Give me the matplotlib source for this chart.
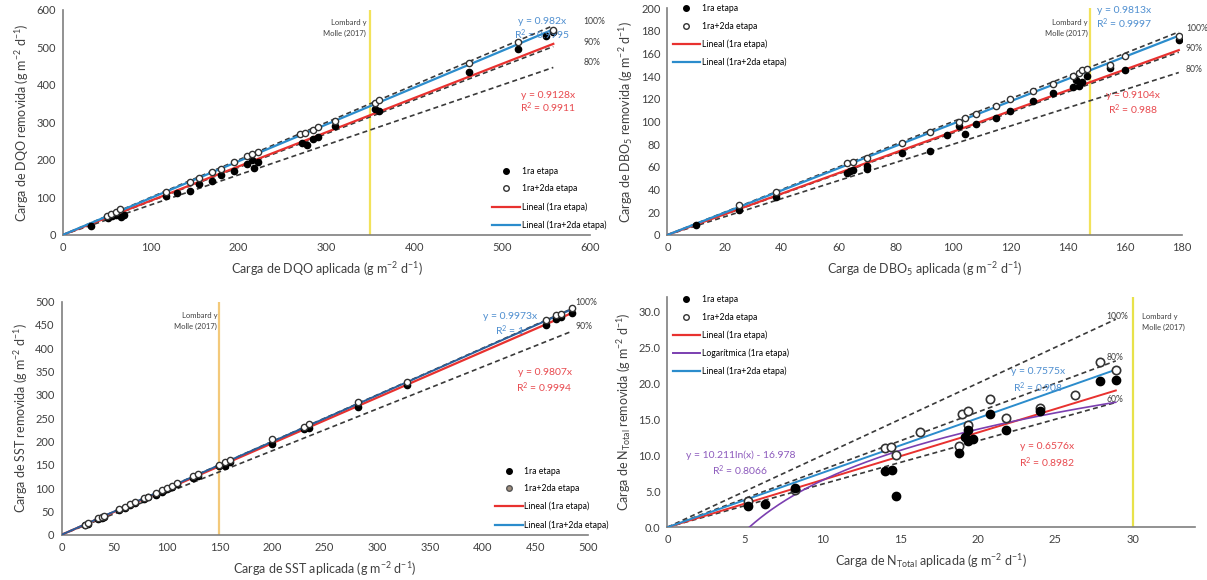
import numpy as np
import matplotlib
matplotlib.use("Agg")
import matplotlib.pyplot as plt
from matplotlib.lines import Line2D

plt.rcParams['font.family'] = ['Lato', 'DejaVu Sans']
plt.rcParams['mathtext.fontset'] = 'custom'
plt.rcParams['mathtext.rm'] = 'Lato'
plt.rcParams['mathtext.it'] = 'Lato:italic'

# ---------------- DATA ----------------
# Panel 1: DQO
dqo_x1 = [32, 52, 56, 60, 66, 70, 118, 130, 145, 155, 170, 180, 195, 210, 215, 218, 222,
          272, 278, 285, 290, 310, 355, 360, 462, 518, 550, 558]
dqo_y1 = [25, 45, 50, 52, 48, 52, 103, 112, 118, 135, 145, 160, 170, 188, 200, 178, 195,
          245, 240, 255, 262, 290, 335, 330, 435, 495, 530, 540]
dqo_x2 = [50, 55, 60, 65, 118, 145, 155, 170, 180, 195, 210, 215, 222, 270, 275, 285, 290,
          310, 355, 360, 462, 518, 558]
dqo_y2 = [50, 55, 62, 68, 115, 142, 152, 168, 175, 195, 210, 215, 220, 268, 272, 280, 288,
          305, 352, 360, 458, 515, 545]
dqo_m1, dqo_r1 = 0.9128, 0.9911
dqo_m2, dqo_r2 = 0.982, 0.9995

# Panel 2: DBO5
dbo_x1 = [10, 25, 38, 63, 64, 65, 70, 70, 82, 92, 98, 102, 104, 108, 115, 120, 128, 135,
          142, 143, 144, 145, 147, 155, 160, 179]
dbo_y1 = [9, 22, 33, 55, 56, 57, 58, 61, 72, 74, 88, 96, 89, 98, 103, 109, 118, 125,
          130, 137, 131, 135, 140, 147, 145, 172]
dbo_x2 = [25, 38, 63, 65, 70, 82, 92, 102, 104, 108, 115, 120, 128, 135, 142, 144, 145,
          147, 155, 160, 179]
dbo_y2 = [26, 38, 63, 64, 68, 81, 91, 100, 103, 107, 114, 120, 127, 133, 140, 143, 145,
          146, 150, 158, 175]
dbo_m1, dbo_r1 = 0.9104, 0.988
dbo_m2, dbo_r2 = 0.9813, 0.9997

# Panel 3: SST
sst_x = [22, 25, 35, 38, 40, 55, 60, 65, 70, 78, 82, 90, 95, 100, 105, 110, 125, 130,
         150, 155, 160, 200, 230, 235, 282, 328, 460, 470, 475, 485]
sst_y1 = [21, 24, 34, 37, 39, 53, 58, 63, 68, 76, 80, 86, 92, 98, 103, 108, 122, 127,
          147, 148, 157, 194, 226, 230, 275, 321, 450, 462, 466, 476]
sst_y2 = [22, 25, 35, 38, 40, 55, 60, 65, 70, 78, 82, 90, 95, 100, 105, 110, 125, 130,
          150, 156, 160, 205, 232, 238, 285, 328, 460, 471, 474, 487]
sst_m1, sst_r1 = 0.9807, 0.9994
sst_m2, sst_r2 = 0.9973, 1

# Panel 4: N total
nt_x1 = [5.2, 6.3, 8.2, 14.0, 14.5, 14.7, 18.8, 19.2, 19.4, 19.7, 19.4, 20.8, 21.8, 24.0, 27.9, 28.9]
nt_y1 = [3.0, 3.2, 5.5, 7.8, 8.0, 4.4, 10.3, 12.5, 12.0, 12.2, 13.5, 15.8, 13.5, 16.2, 20.3, 20.5]
nt_x2 = [5.2, 8.2, 14.0, 14.4, 14.7, 16.3, 18.8, 19.0, 19.4, 19.4, 20.8, 21.8, 24.0, 26.3, 27.9, 28.9]
nt_y2 = [3.6, 5.2, 11.0, 11.2, 10.0, 13.3, 11.3, 15.8, 16.2, 14.2, 17.8, 15.2, 16.5, 18.4, 23.0, 21.8]
nt_m1, nt_r1 = 0.6576, 0.8982
nt_m2, nt_r2 = 0.7575, 0.908
nt_loga, nt_logb, nt_logr = 10.211, -16.978, 0.8066

# ---------------- STYLE ----------------
RED = '#e8312f'
BLUE = '#2b8ccc'
PURPLE = '#7b3fb0'
TRED = '#e84a4f'
TBLUE = '#4f8fd0'
TPURPLE = '#8d5bbd'
DASH = '#3a3a3a'
TICK_FS = 8
LAB_FS = 9
SMALL = 6.2
EQ_FS = 7.5

fig = plt.figure(figsize=(12.07, 5.80), dpi=100)


def style_axes(ax):
    for s in ['top', 'right']:
        ax.spines[s].set_visible(False)
    for s in ['left', 'bottom']:
        ax.spines[s].set_color('#7f7f7f')
        ax.spines[s].set_linewidth(1.2)
    ax.tick_params(length=0, labelsize=TICK_FS, colors='#404040', pad=5)


def scatter_pair(ax, x1, y1, x2, y2, open_color='#333333', ms=4.5):
    ax.plot(x2, y2, 'o', mfc='white', mec=open_color, mew=1.0, ms=ms, zorder=4)
    ax.plot(x1, y1, 'o', color='black', ms=ms, zorder=3)


def dashed(ax, xmax, fracs):
    for f in fracs:
        xs = np.array([0, xmax])
        ax.plot(xs, f * xs, ls=(0, (3, 2)), color=DASH, lw=1.2, zorder=2)


def legend(ax, loc, entries, bbox=None):
    kw = dict(loc=loc, frameon=False, fontsize=SMALL, handlelength=3.2,
              labelspacing=1.0, handletextpad=0.2, borderaxespad=0.2)
    if bbox is not None:
        kw['bbox_to_anchor'] = bbox
    ax.legend(handles=entries, **kw)


def base_entries(open_color='#333333', open_fill='white', extra=None):
    e = [Line2D([], [], ls='none', marker='o', color='black', ms=4, label='1ra etapa'),
         Line2D([], [], ls='none', marker='o', mfc=open_fill, mec=open_color, ms=4, label='1ra+2da etapa'),
         Line2D([], [], color=RED, lw=1.6, label='Lineal (1ra etapa)')]
    if extra:
        e += extra
    e.append(Line2D([], [], color=BLUE, lw=1.6, label='Lineal (1ra+2da etapa)'))
    return e


def pct_labels(ax, xpos, xmax, fracs, dy):
    for f in fracs:
        ax.text(xpos, xmax * f + dy, f'{int(round(f * 100))}%', fontsize=SMALL,
                color='#404040', va='center', clip_on=False)


# ---------- Panel 1: DQO ----------
ax1 = fig.add_axes([0.052, 0.595, 0.437, 0.388])
style_axes(ax1)
ax1.set_xlim(0, 600)
ax1.set_ylim(0, 600)
ax1.set_xticks(range(0, 601, 100))
ax1.set_yticks(range(0, 601, 100))
xmax = max(dqo_x1)
dashed(ax1, xmax, [1.0, 0.9, 0.8])
xs = np.array([0, xmax])
ax1.plot(xs, dqo_m1 * xs, color=RED, lw=1.6, zorder=3)
ax1.plot(xs, dqo_m2 * xs, color=BLUE, lw=1.6, zorder=3)
scatter_pair(ax1, dqo_x1, dqo_y1, dqo_x2, dqo_y2)
ax1.axvline(350, color='#f2e25a', lw=1.6, zorder=1)
ax1.text(345, 575, 'Lombard y\nMolle (2017)', fontsize=5.5, ha='right', va='top', color='#404040', linespacing=1.6)
pct_labels(ax1, 592, xmax, [1.0, 0.9, 0.8], 12)
ax1.text(545, 568, f'y = {dqo_m2}x', color=TBLUE, fontsize=EQ_FS, ha='center', va='center')
ax1.text(545, 534, f'R$^2$ = {dqo_r2}', color=TBLUE, fontsize=EQ_FS, ha='center', va='center')
ax1.text(552, 373, f'y = {dqo_m1}x', color=TRED, fontsize=EQ_FS, ha='center', va='center')
ax1.text(552, 339, f'R$^2$ = {dqo_r1}', color=TRED, fontsize=EQ_FS, ha='center', va='center')
ax1.set_xlabel('Carga de DQO aplicada (g m$^{-2}$ d$^{-1}$)', fontsize=LAB_FS, color='#404040', labelpad=5)
ax1.set_ylabel('Carga de DQO removida (g m$^{-2}$ d$^{-1}$)', fontsize=LAB_FS, color='#404040', labelpad=4)
legend(ax1, 'lower right', base_entries(), bbox=(1.04, 0.0))

# ---------- Panel 2: DBO5 ----------
ax2 = fig.add_axes([0.553, 0.595, 0.426, 0.391])
style_axes(ax2)
ax2.set_xlim(0, 180)
ax2.set_ylim(0, 200)
ax2.set_xticks(range(0, 181, 20))
ax2.set_yticks(range(0, 201, 20))
xmax = max(dbo_x1)
dashed(ax2, xmax, [1.0, 0.9, 0.8])
xs = np.array([0, xmax])
ax2.plot(xs, dbo_m1 * xs, color=RED, lw=1.6, zorder=3)
ax2.plot(xs, dbo_m2 * xs, color=BLUE, lw=1.6, zorder=3)
scatter_pair(ax2, dbo_x1, dbo_y1, dbo_x2, dbo_y2)
ax2.axvline(148, color='#f2e25a', lw=1.6, zorder=1)
ax2.text(147, 190, 'Lombard y\nMolle (2017)', fontsize=5.5, ha='right', va='top', color='#404040', linespacing=1.6)
pct_labels(ax2, 181.5, xmax, [1.0, 0.9, 0.8], 3)
ax2.text(160, 198, f'y = {dbo_m2}x', color=TBLUE, fontsize=EQ_FS, ha='center', va='center')
ax2.text(160, 186, f'R$^2$ = {dbo_r2}', color=TBLUE, fontsize=EQ_FS, ha='center', va='center')
ax2.text(163, 123, f'y = {dbo_m1}x', color=TRED, fontsize=EQ_FS, ha='center', va='center')
ax2.text(163, 110, f'R$^2$ = {dbo_r1}', color=TRED, fontsize=EQ_FS, ha='center', va='center')
ax2.set_xlabel('Carga de DBO$_5$ aplicada (g m$^{-2}$ d$^{-1}$)', fontsize=LAB_FS, color='#404040', labelpad=5)
ax2.set_ylabel('Carga de DBO$_5$ removida (g m$^{-2}$ d$^{-1}$)', fontsize=LAB_FS, color='#404040', labelpad=4)
legend(ax2, 'upper left', base_entries(), bbox=(0.0, 1.04))

# ---------- Panel 3: SST ----------
ax3 = fig.add_axes([0.051, 0.078, 0.436, 0.402])
style_axes(ax3)
ax3.set_xlim(0, 500)
ax3.set_ylim(0, 500)
ax3.set_xticks(range(0, 501, 50))
ax3.set_yticks(range(0, 501, 50))
xmax = max(sst_x)
dashed(ax3, xmax, [1.0, 0.9])
xs = np.array([0, xmax])
ax3.plot(xs, sst_m1 * xs, color=RED, lw=1.6, zorder=3)
ax3.plot(xs, sst_m2 * xs, color='#2a5f9a', lw=1.4, zorder=3)
scatter_pair(ax3, sst_x, sst_y1, sst_x, sst_y2, open_color='#333333')
ax3.axvline(150, color='#f3c97a', lw=1.6, zorder=1)
ax3.text(148, 478, 'Lombard y\nMolle (2017)', fontsize=5.5, ha='right', va='top', color='#404040', linespacing=1.6)
ax3.text(xmax + 3, xmax + 14, '100%', fontsize=SMALL, color='#404040', va='center', clip_on=False)
ax3.text(xmax + 3, xmax * 0.9 + 10, '90%', fontsize=SMALL, color='#404040', va='center', clip_on=False)
ax3.text(426, 469, f'y = {sst_m2}x', color=TBLUE, fontsize=EQ_FS, ha='center', va='center')
ax3.text(426, 438, f'R$^2$ = {sst_r2}', color=TBLUE, fontsize=EQ_FS, ha='center', va='center')
ax3.text(459, 347, f'y = {sst_m1}x', color=TRED, fontsize=EQ_FS, ha='center', va='center')
ax3.text(459, 316, f'R$^2$ = {sst_r1}', color=TRED, fontsize=EQ_FS, ha='center', va='center')
ax3.set_xlabel('Carga de SST aplicada (g m$^{-2}$ d$^{-1}$)', fontsize=LAB_FS, color='#404040', labelpad=5)
ax3.set_ylabel('Carga de SST removida (g m$^{-2}$ d$^{-1}$)', fontsize=LAB_FS, color='#404040', labelpad=4)
legend(ax3, 'lower right', base_entries(open_color='#555555', open_fill='#a08f7f'), bbox=(1.05, 0.0))

# ---------- Panel 4: N total ----------
ax4 = fig.add_axes([0.553, 0.091, 0.437, 0.397])
style_axes(ax4)
ax4.set_xlim(0, 34)
ax4.set_ylim(0, 32)
ax4.set_xticks(range(0, 31, 5))
ax4.set_yticks(np.arange(0, 30.1, 5))
ax4.yaxis.set_major_formatter(matplotlib.ticker.FormatStrFormatter('%.1f'))
xmax = max(nt_x1)
dashed(ax4, xmax, [1.0, 0.8, 0.6])
xs = np.array([0, xmax])
ax4.plot(xs, nt_m1 * xs, color=RED, lw=1.4, zorder=3)
ax4.plot(xs, nt_m2 * xs, color=BLUE, lw=1.4, zorder=3)
xl = np.linspace(np.exp(-nt_logb / nt_loga), xmax, 200)
ax4.plot(xl, nt_loga * np.log(xl) + nt_logb, color=PURPLE, lw=1.2, zorder=3)
ax4.plot(nt_x2, nt_y2, 'o', mfc='white', mec='#333333', mew=1.2, ms=6, zorder=4)
ax4.plot(nt_x1, nt_y1, 'o', color='black', ms=6, zorder=5)
ax4.axvline(30, color='#e8e24a', lw=1.6, zorder=1)
ax4.text(30.6, 29.8, 'Lombard y\nMolle (2017)', fontsize=5.5, ha='left', va='top', color='#404040', linespacing=1.6)
pct_labels(ax4, xmax - 0.6, xmax, [1.0, 0.8, 0.6], 0.4)
ax4.text(23.9, 21.6, f'y = {nt_m2}x', color=TBLUE, fontsize=EQ_FS, ha='center', va='center')
ax4.text(23.9, 19.4, f'R$^2$ = {nt_r2}', color=TBLUE, fontsize=EQ_FS, ha='center', va='center')
ax4.text(24.5, 11.2, f'y = {nt_m1}x', color=TRED, fontsize=EQ_FS, ha='center', va='center')
ax4.text(24.5, 9.0, f'R$^2$ = {nt_r1}', color=TRED, fontsize=EQ_FS, ha='center', va='center')
ax4.text(4.7, 10.0, f'y = {nt_loga}ln(x) - {abs(nt_logb)}', color=TPURPLE, fontsize=EQ_FS, ha='center', va='center')
ax4.text(4.7, 7.8, f'R$^2$ = {nt_logr}', color=TPURPLE, fontsize=EQ_FS, ha='center', va='center')
ax4.set_xlabel(r'Carga de N$_{\mathrm{Total}}$ aplicada (g m$^{-2}$ d$^{-1}$)', fontsize=LAB_FS, color='#404040', labelpad=5)
ax4.set_ylabel(r'Carga de N$_{\mathrm{Total}}$ removida (g m$^{-2}$ d$^{-1}$)', fontsize=LAB_FS, color='#404040', labelpad=4)
legend(ax4, 'upper left',
       base_entries(extra=[Line2D([], [], color=PURPLE, lw=1.4, label='Logarítmica (1ra etapa)')]),
       bbox=(0.0, 1.03))

fig.savefig('out.png', dpi=100)
